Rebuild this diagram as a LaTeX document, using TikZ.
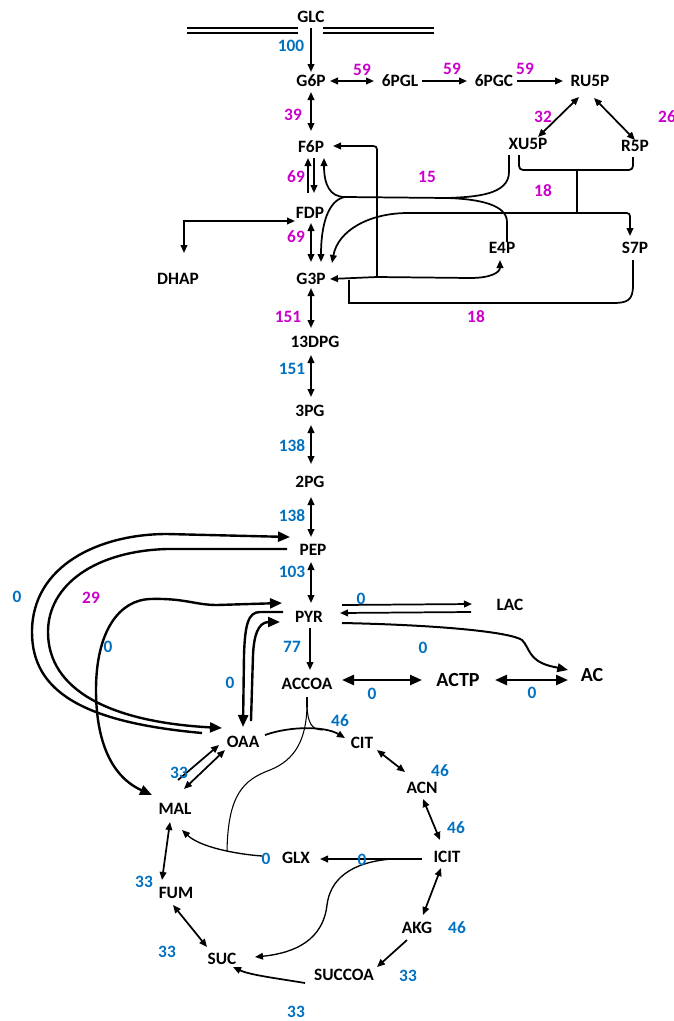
\documentclass[tikz,border=0pt]{standalone}
\usepackage{fontspec}
\setmainfont{Carlito}
\usetikzlibrary{arrows.meta}
\definecolor{fblue}{RGB}{0,112,192}
\definecolor{fmag}{RGB}{204,0,204}
\begin{document}
\begin{tikzpicture}[x=0.75pt,y=-0.75pt,
  met/.style={font=\bfseries\fontsize{13}{15}\selectfont, inner sep=2pt},
  bigmet/.style={font=\bfseries\fontsize{15}{17}\selectfont, inner sep=2pt},
  bnum/.style={font=\bfseries\fontsize{13}{15}\selectfont, text=fblue, inner sep=0pt},
  mnum/.style={font=\bfseries\fontsize{13}{15}\selectfont, text=fmag, inner sep=0pt},
  rx/.style={line width=1.3pt, -{Triangle[length=6pt,width=5pt]}},
  rxx/.style={line width=1.3pt, {Triangle[length=6pt,width=5pt]}-{Triangle[length=6pt,width=5pt]}},
  link/.style={line width=1.3pt},
  thinl/.style={line width=0.8pt},
  hv/.style={line width=1.8pt, -{Triangle[length=9pt,width=7.5pt]}},
  hvv/.style={line width=1.8pt, {Triangle[length=9pt,width=7.5pt]}-{Triangle[length=9pt,width=7.5pt]}},
]
\useasboundingbox (0,0) rectangle (674,1021);

% membrane
\draw[line width=1.5pt] (187,27.5) -- (298,27.5) (187,33) -- (298,33)
  (323,27.5) -- (434,27.5) (323,33) -- (434,33);

% metabolites
\node[met] (GLC) at (311,17) {GLC};
\node[met] (G6P) at (311,81) {G6P};
\node[met] (PGL) at (400,81) {6PGL};
\node[met] (PGC) at (494,81) {6PGC};
\node[met] (RU5P) at (590,81) {RU5P};
\node[met] (XU5P) at (528,144) {XU5P};
\node[met] (R5P) at (635,146) {R5P};
\node[met] (F6P) at (311,147) {F6P};
\node[met] (FDP) at (310,213) {FDP};
\node[met] (G3P) at (311,279) {G3P};
\node[met] (DHAP) at (178,279) {DHAP};
\node[met] (E4P) at (502,248) {E4P};
\node[met] (S7P) at (635,248) {S7P};
\node[met] (DPG) at (315,342) {13DPG};
\node[met] (PGthree) at (310,411) {3PG};
\node[met] (PGtwo) at (310,482) {2PG};
\node[met] (PEP) at (313,550) {PEP};
\node[met] (PYR) at (309,617) {PYR};
\node[met] (ACCOA) at (307,684) {ACCOA};
\node[met] (LAC) at (510,605) {LAC};
\node[bigmet] (ACTP) at (458,680) {ACTP};
\node[bigmet] (AC) at (592,675) {AC};
\node[met] (OAA) at (243,742) {OAA};
\node[met] (CIT) at (362,743) {CIT};
\node[met] (ACN) at (422,788) {ACN};
\node[met] (ICIT) at (447,857) {ICIT};
\node[met] (AKG) at (417,928) {AKG};
\node[met] (SUCCOA) at (344,975) {SUCCOA};
\node[met] (SUC) at (222,959) {SUC};
\node[met] (FUM) at (176,893) {FUM};
\node[met] (MAL) at (175,809) {MAL};
\node[met] (GLX) at (296,858) {GLX};

% upper glycolysis and PPP
\draw[rx] ([shift={(0,11)}]GLC.center) -- ([shift={(0,-9)}]G6P.center);
\draw[rxx] ([shift={(19,0)}]G6P.center) -- ([shift={(-26,0)}]PGL.center);
\draw[rx] ([shift={(22,0)}]PGL.center) -- ([shift={(-27,0)}]PGC.center);
\draw[rx] ([shift={(23,0)}]PGC.center) -- ([shift={(-27,0)}]RU5P.center);
\draw[rxx] ([shift={(-11,16)}]RU5P.center) -- ([shift={(10,-7)}]XU5P.center);
\draw[rxx] ([shift={(4,17)}]RU5P.center) -- ([shift={(0,-6)}]R5P.center);
\draw[rxx] ([shift={(0,11)}]G6P.center) -- ([shift={(0,-16)}]F6P.center);
\draw[rx] ([shift={(-2,-20)}]FDP.center) -- ([shift={(-3,11)}]F6P.center);
\draw[rx] ([shift={(3,11)}]F6P.center) -- ([shift={(4,-20)}]FDP.center);
\draw[rxx] ([shift={(1,10)}]FDP.center) -- ([shift={(0,-17)}]G3P.center);
\draw[rxx] ([shift={(6,-26)}]DHAP.center) |- ([shift={(-15,8)}]FDP.center);

% lower glycolysis
\draw[rxx] ([shift={(0,9)}]G3P.center) -- ([shift={(-4,-14)}]DPG.center);
\draw[rxx] ([shift={(-4,13)}]DPG.center) -- ([shift={(1,-14)}]PGthree.center);
\draw[rxx] ([shift={(1,14)}]PGthree.center) -- ([shift={(1,-18)}]PGtwo.center);
\draw[rxx] ([shift={(1,15)}]PGtwo.center) -- ([shift={(-2,-13)}]PEP.center);
\draw[rxx] ([shift={(-2,12)}]PEP.center) -- ([shift={(2,-14)}]PYR.center);
\draw[rx] ([shift={(1,11)}]PYR.center) -- ([shift={(3,-14)}]ACCOA.center);

% transaldolase / transketolase
\coordinate (TAL1) at (377,277);
\draw[rx] (TAL1) -- (377,153) .. controls (377,146) .. (369,146) -- ([shift={(22,-1)}]F6P.center);
\draw[rxx] ([shift={(19,0)}]G3P.center) -- (TAL1) -- (470,278) .. controls (492,278) and (500,272) .. ([shift={(-2,12)}]E4P.center);
\draw[link] ([shift={(-2,12)}]S7P.center) -- (633,285) .. controls (633,300) and (628,303) .. (613,303) -- (349,303) -- ([shift={(38,1)}]G3P.center);

\coordinate (TK1) at (447,198);
\coordinate (TK2) at (345,197);
\draw[link] ([shift={(-19,11)}]XU5P.center) -- (509,172) .. controls (509,195) and (475,197) .. (TK1);
\draw[link] ([shift={(5,-6)}]E4P.center) -- (507,222) .. controls (507,205) and (480,199) .. (TK1);
\draw[link] (TK1) -- (TK2);
\draw[rx] (TK2) .. controls (330,197) and (324,185) .. ([shift={(13,11)}]F6P.center);
\draw[rx] (TK2) .. controls (328,200) and (321,225) .. ([shift={(10,-17)}]G3P.center);

\draw[link, rounded corners=3] ([shift={(-9,11)}]XU5P.center) -- (519,170) -- (633,170) -- ([shift={(-2,11)}]R5P.center);
\coordinate (TK3) at (577,170);
\coordinate (TK4) at (577,213);
\draw[link] (TK3) -- (TK4);
\draw[rxx] ([shift={(21,-16)}]G3P.center) .. controls (338,230) and (370,213) .. (408,213) -- (623,213) .. controls (630,213) .. (630,220) -- ([shift={(-5,-12)}]S7P.center);

% anaplerotic curves
\draw[hv] ([shift={(-41,-9)}]OAA.center) .. controls (80,722) and (32,690) .. (32,632) .. controls (32,565) and (100,534) .. (167,534) -- ([shift={(-23,-13)}]PEP.center);
\draw[hv] ([shift={(-26,-1)}]PEP.center) -- (167,549) .. controls (95,551) and (48,585) .. (48,632) .. controls (48,690) and (110,722) .. ([shift={(-21,-14)}]OAA.center);
\draw[hvv] ([shift={(-23,-14)}]MAL.center) .. controls (108,775) and (96,735) .. (96,690) .. controls (96,630) and (120,600) .. (150,599) .. controls (185,598) and (195,605) .. (217,605) -- ([shift={(-27,-14)}]PYR.center);
\draw[hv] ([shift={(-26,-5)}]PYR.center) -- (260,612) .. controls (248,612) and (245,625) .. (244,655) -- ([shift={(0,-15)}]OAA.center);
\draw[hv] ([shift={(8,-21)}]OAA.center) -- (253,655) .. controls (254,635) and (258,623) .. (268,622) -- ([shift={(-29,5)}]PYR.center);

% overflow
\draw[rx] ([shift={(33,-12)}]PYR.center) -- ([shift={(-38,-1)}]LAC.center);
\draw[rx] ([shift={(-39,7)}]LAC.center) -- ([shift={(31,-4)}]PYR.center);
\draw[line width=1.5pt, -{Triangle[length=8pt,width=6.5pt]}] ([shift={(33,6)}]PYR.center) .. controls (440,625) and (510,632) .. (522,640) .. controls (530,648) and (528,660) .. (550,666) -- ([shift={(-24,-5)}]AC.center);
\draw[hvv] ([shift={(35,-4)}]ACCOA.center) -- ([shift={(-36,0)}]ACTP.center);
\draw[hvv] ([shift={(37,0)}]ACTP.center) -- ([shift={(-24,5)}]AC.center);

% TCA cycle
\draw[rx] ([shift={(22,-7)}]OAA.center) .. controls (290,726) and (325,726) .. ([shift={(-17,-5)}]CIT.center);
\coordinate (AF) at (307,707);
\coordinate (AJ) at (323,730);
\coordinate (GJ) at (227,851);
\draw[thinl] ([shift={(0,13)}]ACCOA.center) -- (AF);
\draw[thinl] (AF) .. controls (308,722) and (311,730) .. (AJ);
\draw[thinl] (AF) .. controls (306,740) and (295,760) .. (270,770) .. controls (243,780) and (228,795) .. (GJ);
\draw[rx, line width=1pt] ([shift={(-34,-2)}]GLX.center) .. controls (235,854) and (200,847) .. ([shift={(7,21)}]MAL.center);
\draw[rx] ([shift={(-25,2)}]ICIT.center) -- ([shift={(24,1)}]GLX.center);
\coordinate (IJ) at (392,859);
\draw[rx, line width=1pt] (IJ) .. controls (350,862) and (330,880) .. (327,905) .. controls (323,940) and (295,953) .. ([shift={(33,-2)}]SUC.center);
\draw[rxx] ([shift={(15,7)}]CIT.center) -- ([shift={(-17,-16)}]ACN.center);
\draw[rxx] ([shift={(1,11)}]ACN.center) -- ([shift={(-7,-17)}]ICIT.center);
\draw[rxx] ([shift={(-6,11)}]ICIT.center) -- ([shift={(6,-13)}]AKG.center);
\draw[rx] ([shift={(-10,12)}]AKG.center) -- ([shift={(33,-8)}]SUCCOA.center);
\draw[rx] ([shift={(-39,8)}]SUCCOA.center) .. controls (275,978) and (250,975) .. ([shift={(11,8)}]SUC.center);
\draw[rxx] ([shift={(-15,-12)}]SUC.center) -- ([shift={(-3,12)}]FUM.center);
\draw[rxx] ([shift={(-14,-13)}]FUM.center) -- ([shift={(-5,13)}]MAL.center);
\draw[rx] ([shift={(3,-29)}]MAL.center) -- ([shift={(-24,3)}]OAA.center);
\draw[rxx] ([shift={(-18,8)}]OAA.center) -- ([shift={(9,-20)}]MAL.center);

% flux values
\node[bnum] (n1) at (291,46) {100};
\node[mnum] (n2) at (362,70) {59};
\node[mnum] (n3) at (452,69) {59};
\node[mnum] (n4) at (525,69) {59};
\node[mnum] (n5) at (293,115) {39};
\node[mnum] (n6) at (543,117) {32};
\node[mnum] (n7) at (667,117) {26};
\node[mnum] (n8) at (296,177) {69};
\node[mnum] (n9) at (427,177) {15};
\node[mnum] (n10) at (543,191) {18};
\node[mnum] (n11) at (296,237) {69};
\node[mnum] (n12) at (288,317) {151};
\node[mnum] (n13) at (476,317) {18};
\node[bnum] (n14) at (292,369) {151};
\node[bnum] (n15) at (292,446) {138};
\node[bnum] (n16) at (292,516) {138};
\node[bnum] (n17) at (292,572) {103};
\node[bnum] (n18) at (17,597) {0};
\node[mnum] (n19) at (91,598) {29};
\node[bnum] (n20) at (361,599) {0};
\node[bnum] (n21) at (108,647) {0};
\node[bnum] (n22) at (292,647) {77};
\node[bnum] (n23) at (423,648) {0};
\node[bnum] (n24) at (230,683) {0};
\node[bnum] (n25) at (372,694) {0};
\node[bnum] (n26) at (532,693) {0};
\node[bnum] (n27) at (340,721) {46};
\node[bnum] (n28) at (440,771) {46};
\node[bnum] (n29) at (179,773) {33};
\node[bnum] (n30) at (456,828) {46};
\node[bnum] (n31) at (266,859) {0};
\node[bnum] (n32) at (362,860) {0};
\node[bnum] (n33) at (144,882) {33};
\node[bnum] (n34) at (457,928) {46};
\node[bnum] (n35) at (167,952) {33};
\node[bnum] (n36) at (408,976) {33};
\node[bnum] (n37) at (296,1012) {33};
\end{tikzpicture}
\end{document}
